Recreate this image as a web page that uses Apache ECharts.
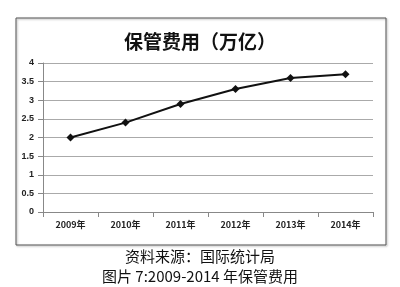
<!DOCTYPE html>
<html><head><meta charset="utf-8">
<script src="https://cdn.jsdelivr.net/npm/echarts@6/dist/echarts.min.js"></script>
<style>html,body{margin:0;padding:0;background:#fff}#c{width:400px;height:287px}</style>
</head><body><div id="c"></div>
<script>
const categories = ['2009年','2010年','2011年','2012年','2013年','2014年'];
const values = [2.0, 2.4, 2.9, 3.3, 3.6, 3.7];
const titleText = '保管费用（万亿）';
const sourceText = '资料来源：国际统计局';
const captionText = '图片 7:2009-2014 年保管费用';

const chart = echarts.init(document.getElementById('c'), null, {renderer:'canvas'});
chart.setOption({
  backgroundColor:'#fff',
  animation:false,
  graphic:[
    {type:'rect', shape:{x:16,y:18,width:370,height:227}, style:{fill:'none', stroke:'#555', lineWidth:1, shadowColor:'rgba(0,0,0,0.35)', shadowBlur:2, shadowOffsetX:1, shadowOffsetY:1}, z:-1}
  ],
  title:[
    {text:titleText, left:'center', top:27, textStyle:{fontFamily:'Noto Sans CJK SC', fontSize:19, fontWeight:'bold', color:'#111'}},
    {text:sourceText, left:'center', top:244, textStyle:{fontFamily:'Noto Sans CJK SC', fontSize:15, fontWeight:'normal', color:'#111'}},
    {text:captionText, left:'center', top:264, textStyle:{fontFamily:'Noto Sans CJK SC', fontSize:15, fontWeight:'normal', color:'#111'}}
  ],
  grid:{left:43, right:27, top:63, bottom:75},
  xAxis:{type:'category', data:categories, boundaryGap:true,
    axisLine:{lineStyle:{color:'#888'}}, axisTick:{show:true, alignWithLabel:false, lineStyle:{color:'#888'}},
    axisLabel:{color:'#222', fontSize:9, fontWeight:'bold', fontFamily:'Noto Sans CJK SC', margin:8}},
  yAxis:{type:'value', min:0, max:4, interval:0.5,
    axisLine:{show:true, lineStyle:{color:'#888'}}, axisTick:{show:true, lineStyle:{color:'#888'}},
    splitLine:{lineStyle:{color:'#aaa'}},
    axisLabel:{color:'#222', fontSize:9, fontWeight:'bold', fontFamily:'Liberation Sans', margin:9}},
  series:[{type:'line', data:values, symbol:'diamond', symbolSize:8,
    lineStyle:{color:'#111', width:2}, itemStyle:{color:'#111'}}]
});
</script></body></html>
